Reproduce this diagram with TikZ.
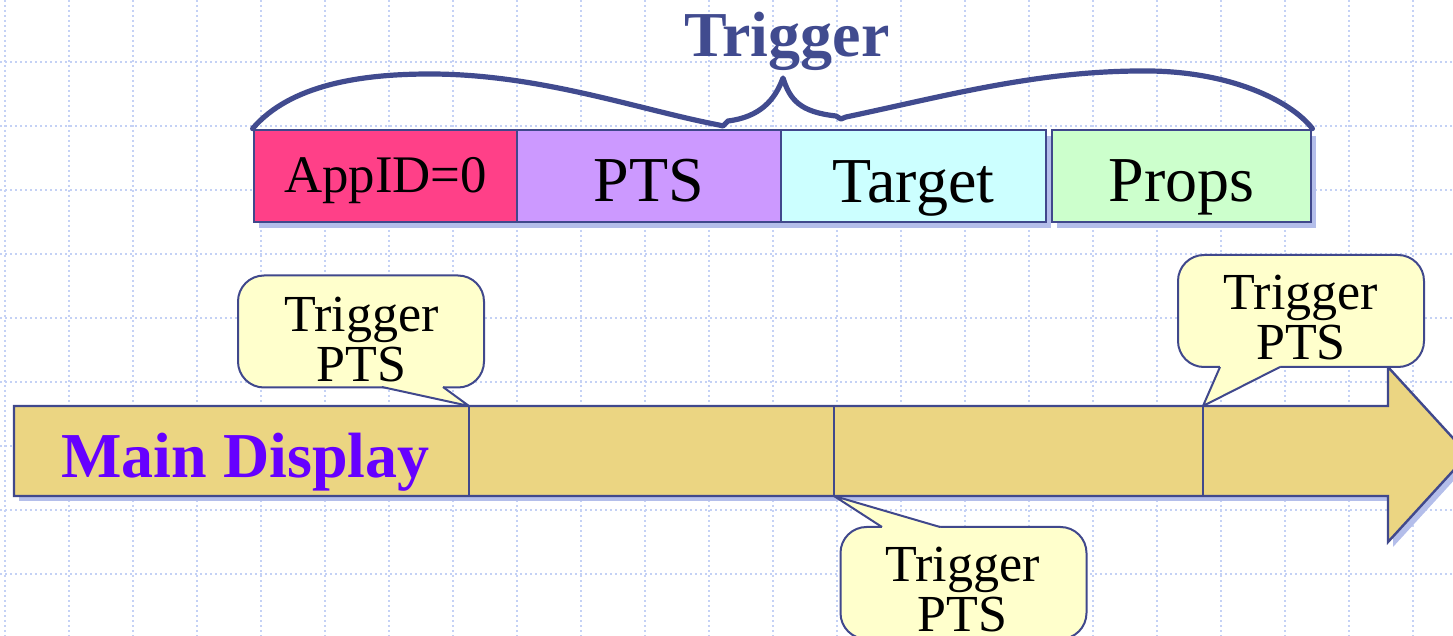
\documentclass[tikz,border=0pt]{standalone}
\usepackage{fontspec}
\setmainfont{Liberation Serif}
\usetikzlibrary{shadows}
\definecolor{edgec}{RGB}{64,72,140}
\definecolor{titlec}{RGB}{65,75,143}
\definecolor{shadowc}{RGB}{180,190,234}
\definecolor{gridc}{RGB}{196,209,245}
\definecolor{appidc}{RGB}{255,64,136}
\definecolor{ptsc}{RGB}{204,153,255}
\definecolor{targetc}{RGB}{204,255,255}
\definecolor{propsc}{RGB}{204,255,204}
\definecolor{barc}{RGB}{235,213,130}
\definecolor{callc}{RGB}{255,255,204}
\definecolor{mainc}{RGB}{102,0,255}
\begin{document}
\begin{tikzpicture}[x=0.5pt,y=-0.5pt,
  gridline/.style={gridc, line width=0.7pt, dash pattern=on 1pt off 1.5pt},
  fieldbox/.style={draw=edgec, line width=1.4pt, inner sep=0pt, minimum height=46pt,
    text depth=0pt, font=\fontsize{32}{38}\selectfont,
    drop shadow={shadow xshift=2.5pt, shadow yshift=-3pt, fill=shadowc, opacity=1}},
  bracepath/.style={draw=titlec, line width=2.6pt, line cap=round, line join=round},
  barshape/.style={draw=edgec, line width=1.2pt, fill=barc, line join=miter},
  barshadow/.style={fill=shadowc},
  divider/.style={draw=edgec, line width=1.2pt},
  callbox/.style={draw=edgec, line width=1pt, fill=callc, rounded corners=13pt,
    minimum width=123pt, minimum height=56pt, inner sep=0pt},
  calltext/.style={align=center, inner sep=0pt, font=\fontsize{26}{25}\selectfont},
  ptrline/.style={draw=edgec, line width=1pt, line join=round},
  bigbold/.style={font=\fontsize{32}{38}\selectfont\bfseries, inner sep=0pt, anchor=base}
]
\useasboundingbox (0,0) rectangle (1453,636);
% grid
\begin{scope}
\clip (0,0) rectangle (1453,636);
\foreach \gx in {0,...,22} { \draw[gridline] (5+64*\gx,0) -- (5+64*\gx,636); }
\foreach \gy in {0,...,9} { \draw[gridline] (0,62+64*\gy) -- (1453,62+64*\gy); }
\end{scope}
% trigger fields
\node[fieldbox, fill=appidc, minimum width=131.5pt, text height=17pt,
  font=\fontsize{26.4}{30}\selectfont] (appid) at (385.5,176) {AppID=0};
\node[fieldbox, fill=ptsc, minimum width=132pt, text height=26pt] (pts) at (649,176) {PTS};
\node[fieldbox, fill=targetc, minimum width=132.5pt, text height=27pt] (target) at (913.5,176) {Target};
\node[fieldbox, fill=propsc, minimum width=129.5pt, text height=26pt] (props) at (1181.5,176) {Props};
% brace
\draw[bracepath] (appid.north west)
  .. controls (290,85) and (360,74) .. (430,74)
  .. controls (540,74) and (640,110) .. (719,125)
  -- (723,126) -- (728,121)
  .. controls (760,117) and (775,100) .. (783,78)
  .. controls (790,100) and (800,112) .. (836,116)
  -- (841,119) -- (846,117)
  .. controls (950,95) and (1040,70) .. (1150,71)
  .. controls (1230,72) and (1290,100) .. (props.north east);
\node[bigbold, text=titlec] (title) at (787,57) {Trigger};
% main display bar
\fill[barshadow] (19,411) -- (1393,411) -- (1393,372) -- (1473,459.5) -- (1393,547)
  -- (1393,501) -- (19,501) -- cycle;
\path[barshape] (14,406) -- (1388,406) -- (1388,367) -- (1468,454.5) -- (1388,542)
  -- (1388,496) -- (14,496) -- cycle;
\coordinate (d1t) at (469,406); \coordinate (d1b) at (469,496);
\coordinate (d2t) at (834,406); \coordinate (d2b) at (834,496);
\coordinate (d3t) at (1203,406); \coordinate (d3b) at (1203,496);
\draw[divider] (d1t) -- (d1b);
\draw[divider] (d2t) -- (d2b);
\draw[divider] (d3t) -- (d3b);
\node[bigbold, text=mainc] (maintxt) at (245.5,478) {Main Display};
% callout 1
\node[callbox] (c1) at (361,331.5) {};
\fill[callc] (382,384) -- (443,384) -- (443,387) -- (d1t) -- (382,387) -- cycle;
\draw[ptrline] (382,387) -- (d1t) -- (443,387);
\node[calltext] (c1t) at (361.5,339.5) {Trigger\\PTS};
% callout 2
\node[callbox] (c2) at (963.5,583) {};
\fill[callc] (882,530) -- (940,530) -- (940,527) -- (d2b) -- (882,527) -- cycle;
\draw[ptrline] (882,527) -- (d2b) -- (940,527);
\node[calltext] (c2t) at (962.5,589.5) {Trigger\\PTS};
% callout 3
\node[callbox] (c3) at (1301,311) {};
\fill[callc] (1220,364) -- (1280,364) -- (1280,367) -- (d3t) -- (1220,367) -- cycle;
\draw[ptrline] (1220,367) -- (d3t) -- (1280,367);
\node[calltext] (c3t) at (1301,317.5) {Trigger\\PTS};
\end{tikzpicture}
\end{document}
